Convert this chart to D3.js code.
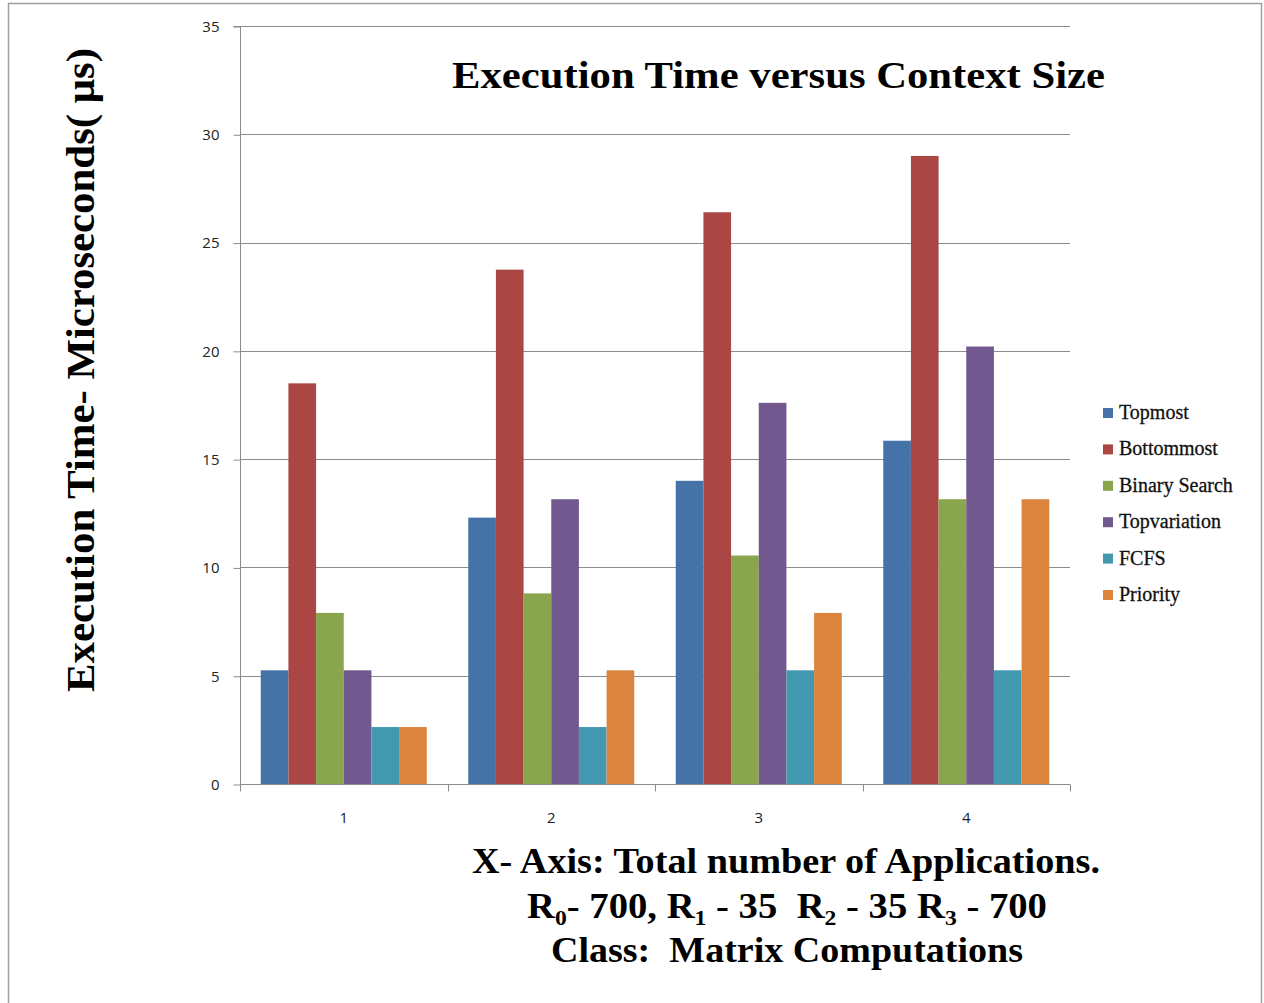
<!DOCTYPE html>
<html>
<head>
<meta charset="utf-8">
<script src="https://cdn.jsdelivr.net/npm/d3@7"></script>
<style>
body { margin: 0; background: #fff; }
</style>
</head>
<body>
<div id="chart"></div>
<script>
var categories = ["1", "2", "3", "4"];
var seriesNames = ["Topmost", "Bottommost", "Binary Search", "Topvariation", "FCFS", "Priority"];
var seriesColors = ["#4572A7", "#AA4643", "#89A54E", "#71588F", "#4198AF", "#DB843D"];
var topmost = [5.25, 12.3, 14.0, 15.85];
var bottommost = [18.5, 23.75, 26.4, 29.0];
var binarySearch = [7.9, 8.8, 10.55, 13.15];
var topvariation = [5.25, 13.15, 17.6, 20.2];
var fcfs = [2.63, 2.63, 5.25, 5.25];
var priority = [2.63, 5.25, 7.9, 13.15];
var yTicks = [0, 5, 10, 15, 20, 25, 30, 35];

var allSeries = [topmost, bottommost, binarySearch, topvariation, fcfs, priority];

var width = 1264, height = 1003;
var plotLeft = 240, plotRight = 1070, plotTop = 26, plotBottom = 784;
var serif = "'Liberation Serif', 'Times New Roman', serif";
var sans = "'Open Sans', 'DejaVu Sans', sans-serif";

var svg = d3.select("#chart").append("svg")
	.attr("width", width)
	.attr("height", height);

// outer frame (left, top, right)
svg.append("path")
	.attr("d", "M8.5,1003 L8.5,3.5 L1261.5,3.5 L1261.5,1003")
	.attr("fill", "none")
	.attr("stroke", "#a0a0a0")
	.attr("stroke-width", 1.5);

var y = d3.scaleLinear().domain([0, 35]).range([plotBottom, plotTop]);
var x0 = d3.scaleBand().domain(categories).range([plotLeft, plotRight]).padding(0);
var x1 = d3.scaleBand().domain(seriesNames).range([0, x0.bandwidth()]).paddingInner(0).paddingOuter(0.75);

// gridlines
svg.append("g")
	.selectAll("line")
	.data(yTicks.filter(function(d){ return d > 0; }))
	.enter().append("line")
	.attr("x1", plotLeft)
	.attr("x2", plotRight)
	.attr("y1", function(d){ return Math.round(y(d)) + 0.5; })
	.attr("y2", function(d){ return Math.round(y(d)) + 0.5; })
	.attr("stroke", "#8c8c8c")
	.attr("stroke-width", 1);

// bars
var groups = svg.append("g")
	.selectAll("g")
	.data(categories)
	.enter().append("g")
	.attr("transform", function(d){ return "translate(" + x0(d) + ",0)"; });

groups.selectAll("rect")
	.data(function(d, i){
		return seriesNames.map(function(s, j){ return {name: s, value: allSeries[j][i], color: seriesColors[j]}; });
	})
	.enter().append("rect")
	.attr("x", function(d){ return x1(d.name); })
	.attr("width", x1.bandwidth())
	.attr("y", function(d){ return y(d.value); })
	.attr("height", function(d){ return plotBottom - y(d.value); })
	.attr("fill", function(d){ return d.color; });

// y axis
var yAxis = d3.axisLeft(y).tickValues(yTicks).tickSize(7).tickPadding(14);
var gy = svg.append("g")
	.attr("transform", "translate(" + (plotLeft + 0.5) + ",0.5)")
	.call(yAxis);
gy.select(".domain").attr("stroke", "#8c8c8c").attr("d", "M-7," + (plotTop) + "H0V" + plotBottom);
gy.selectAll(".tick line").attr("stroke", "#8c8c8c");
gy.selectAll(".tick text")
	.attr("font-family", sans)
	.attr("font-size", 15)
	.attr("fill", "#222");

// x axis
var xAxis = d3.axisBottom(x0).tickSize(0).tickPadding(28);
var gx = svg.append("g")
	.attr("transform", "translate(0," + (plotBottom + 0.5) + ")")
	.call(xAxis);
gx.select(".domain").attr("stroke", "#8c8c8c").attr("d", "M" + plotLeft + ",0H" + plotRight);
gx.selectAll(".tick text")
	.attr("font-family", sans)
	.attr("font-size", 15)
	.attr("fill", "#222");
gx.append("g").selectAll("line")
	.data(categories.map(function(c){ return x0(c); }).concat([plotRight]))
	.enter().append("line")
	.attr("x1", function(d){ return Math.round(d) + 0.5; })
	.attr("x2", function(d){ return Math.round(d) + 0.5; })
	.attr("y1", 0)
	.attr("y2", 7)
	.attr("stroke", "#8c8c8c");

// title
svg.append("text")
	.attr("x", 452)
	.attr("y", 88)
	.attr("textLength", 653)
	.attr("lengthAdjust", "spacingAndGlyphs")
	.attr("font-family", serif)
	.attr("font-weight", "bold")
	.attr("font-size", 38)
	.text("Execution Time versus Context Size");

// y title
svg.append("text")
	.attr("transform", "translate(94,370) rotate(-90)")
	.attr("text-anchor", "middle")
	.attr("textLength", 644)
	.attr("lengthAdjust", "spacingAndGlyphs")
	.attr("font-family", serif)
	.attr("font-weight", "bold")
	.attr("font-size", 39)
	.text("Execution Time- Microseconds( \u03bcs)");

// x caption
svg.append("text")
	.attr("x", 472).attr("y", 873)
	.attr("textLength", 628).attr("lengthAdjust", "spacingAndGlyphs")
	.attr("font-family", serif).attr("font-weight", "bold").attr("font-size", 36)
	.text("X- Axis: Total number of Applications.");

var cap2 = svg.append("text")
	.attr("x", 527).attr("y", 918)
	.attr("xml:space", "preserve")
	.style("white-space", "pre")
	.attr("font-family", serif).attr("font-weight", "bold").attr("font-size", 36);
var parts = [["R", "0", "- 700, "], ["R", "1", " - 35  "], ["R", "2", " - 35 "], ["R", "3", " - 700"]];
parts.forEach(function(p){
	cap2.append("tspan").text(p[0]);
	cap2.append("tspan").attr("font-size", 22).attr("dy", 7).text(p[1]);
	cap2.append("tspan").attr("dy", -7).text(p[2]);
});
var cap2w = cap2.node().getComputedTextLength();
cap2.attr("transform", "translate(527,0) scale(" + (520 / cap2w) + ",1) translate(-527,0)");

svg.append("text")
	.attr("x", 551).attr("y", 962)
	.attr("textLength", 472).attr("lengthAdjust", "spacingAndGlyphs")
	.attr("font-family", serif).attr("font-weight", "bold").attr("font-size", 36)
	.attr("xml:space", "preserve")
	.style("white-space", "pre")
	.text("Class:  Matrix Computations");

// legend
var legend = svg.append("g")
	.selectAll("g")
	.data(seriesNames)
	.enter().append("g")
	.attr("transform", function(d, i){ return "translate(1103," + (408 + i * 36.4) + ")"; });
legend.append("rect")
	.attr("width", 10).attr("height", 10)
	.attr("fill", function(d, i){ return seriesColors[i]; });
legend.append("text")
	.attr("x", 16).attr("y", 11)
	.attr("font-family", serif)
	.attr("font-size", 20)
	.attr("fill", "#111")
	.attr("stroke", "#111")
	.attr("stroke-width", 0.3)
	.text(function(d){ return d; });
</script>
</body>
</html>
